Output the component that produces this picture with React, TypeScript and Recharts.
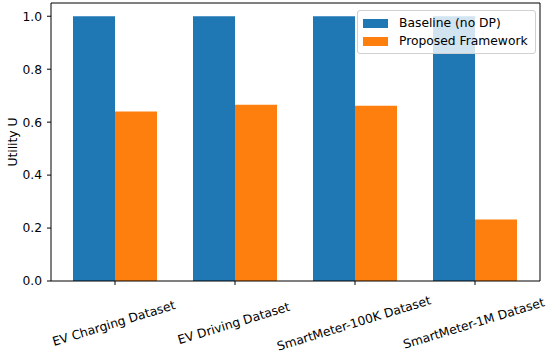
import { BarChart, Bar, XAxis, YAxis, Legend } from 'recharts'

const datasets = [
  'EV Charging Dataset',
  'EV Driving Dataset',
  'SmartMeter-100K Dataset',
  'SmartMeter-1M Dataset',
]
const baseline = [1.0, 1.0, 1.0, 1.0]
const proposed = [0.64, 0.666, 0.662, 0.232]
const yTicks = [0, 0.2, 0.4, 0.6, 0.8, 1.0]

const data = datasets.map((name, i) => ({
  name,
  baseline: baseline[i],
  proposed: proposed[i],
}))

const font = '"DejaVu Sans", sans-serif'
const BLUE = '#1f77b4'
const ORANGE = '#ff7f0e'

function XTick({ x, y, payload }: any) {
  const cx = x - 1
  const cy = y + 37
  return (
    <text
      x={cx}
      y={cy}
      textAnchor="middle"
      dominantBaseline="middle"
      transform={`rotate(-17, ${cx}, ${cy})`}
      fontSize={12.3}
      fontFamily={font}
      fill="#000"
    >
      {payload.value}
    </text>
  )
}

function LegendBox() {
  const items = [
    { label: 'Baseline (no DP)', color: BLUE },
    { label: 'Proposed Framework', color: ORANGE },
  ]
  return (
    <div
      style={{
        background: 'rgba(255,255,255,0.8)',
        border: '1px solid #d0d0d0',
        borderRadius: 3,
        padding: '3px 7px 3px 5px',
        fontFamily: font,
        fontSize: 12.3,
        color: '#000',
      }}
    >
      {items.map((it) => (
        <div key={it.label} style={{ display: 'flex', alignItems: 'center', height: 18 }}>
          <span style={{ width: 25, height: 9, background: it.color, marginRight: 11 }} />
          <span>{it.label}</span>
        </div>
      ))}
    </div>
  )
}

export default function App() {
  return (
    <div style={{ position: 'absolute', left: 0, top: 0, width: 550, height: 358, background: '#fff' }}>
      <BarChart
        width={550}
        height={358}
        data={data}
        margin={{ top: 2, right: 9, bottom: 0, left: 0 }}
        barGap={0}
      >
        <XAxis
          dataKey="name"
          height={77}
          padding={{ left: 4, right: 5 }}
          tick={<XTick />}
          interval={0}
          tickSize={4}
          stroke="#000"
          axisLine={{ stroke: '#000' }}
          tickLine={{ stroke: '#000' }}
        />
        <XAxis
          xAxisId="top"
          dataKey="name"
          orientation="top"
          height={1}
          padding={{ left: 4, right: 5 }}
          tick={false}
          tickLine={false}
          axisLine={{ stroke: '#000' }}
        />
        <YAxis
          domain={[0, 1.05]}
          ticks={yTicks}
          width={51}
          tickSize={4}
          tickMargin={5}
          tickFormatter={(v: number) => v.toFixed(1)}
          tick={{ fill: '#000', fontSize: 12.3, fontFamily: font }}
          axisLine={{ stroke: '#000' }}
          tickLine={{ stroke: '#000' }}
          label={{
            value: 'Utility U',
            angle: -90,
            position: 'insideLeft',
            offset: 13,
            style: { fill: '#000', fontSize: 12.3, fontFamily: font, textAnchor: 'middle' },
          }}
        />
        <YAxis
          yAxisId="right"
          orientation="right"
          domain={[0, 1.05]}
          width={1}
          tick={false}
          tickLine={false}
          axisLine={{ stroke: '#000' }}
        />
        <Bar dataKey="baseline" name="Baseline (no DP)" fill={BLUE} barSize={42} isAnimationActive={false} />
        <Bar dataKey="proposed" name="Proposed Framework" fill={ORANGE} barSize={42} isAnimationActive={false} />
        <Legend
          layout="vertical"
          align="center"
          verticalAlign="middle"
          content={<LegendBox />}
          wrapperStyle={{ position: 'absolute', left: 357, top: 10, width: 'auto' }}
        />
      </BarChart>
    </div>
  )
}
